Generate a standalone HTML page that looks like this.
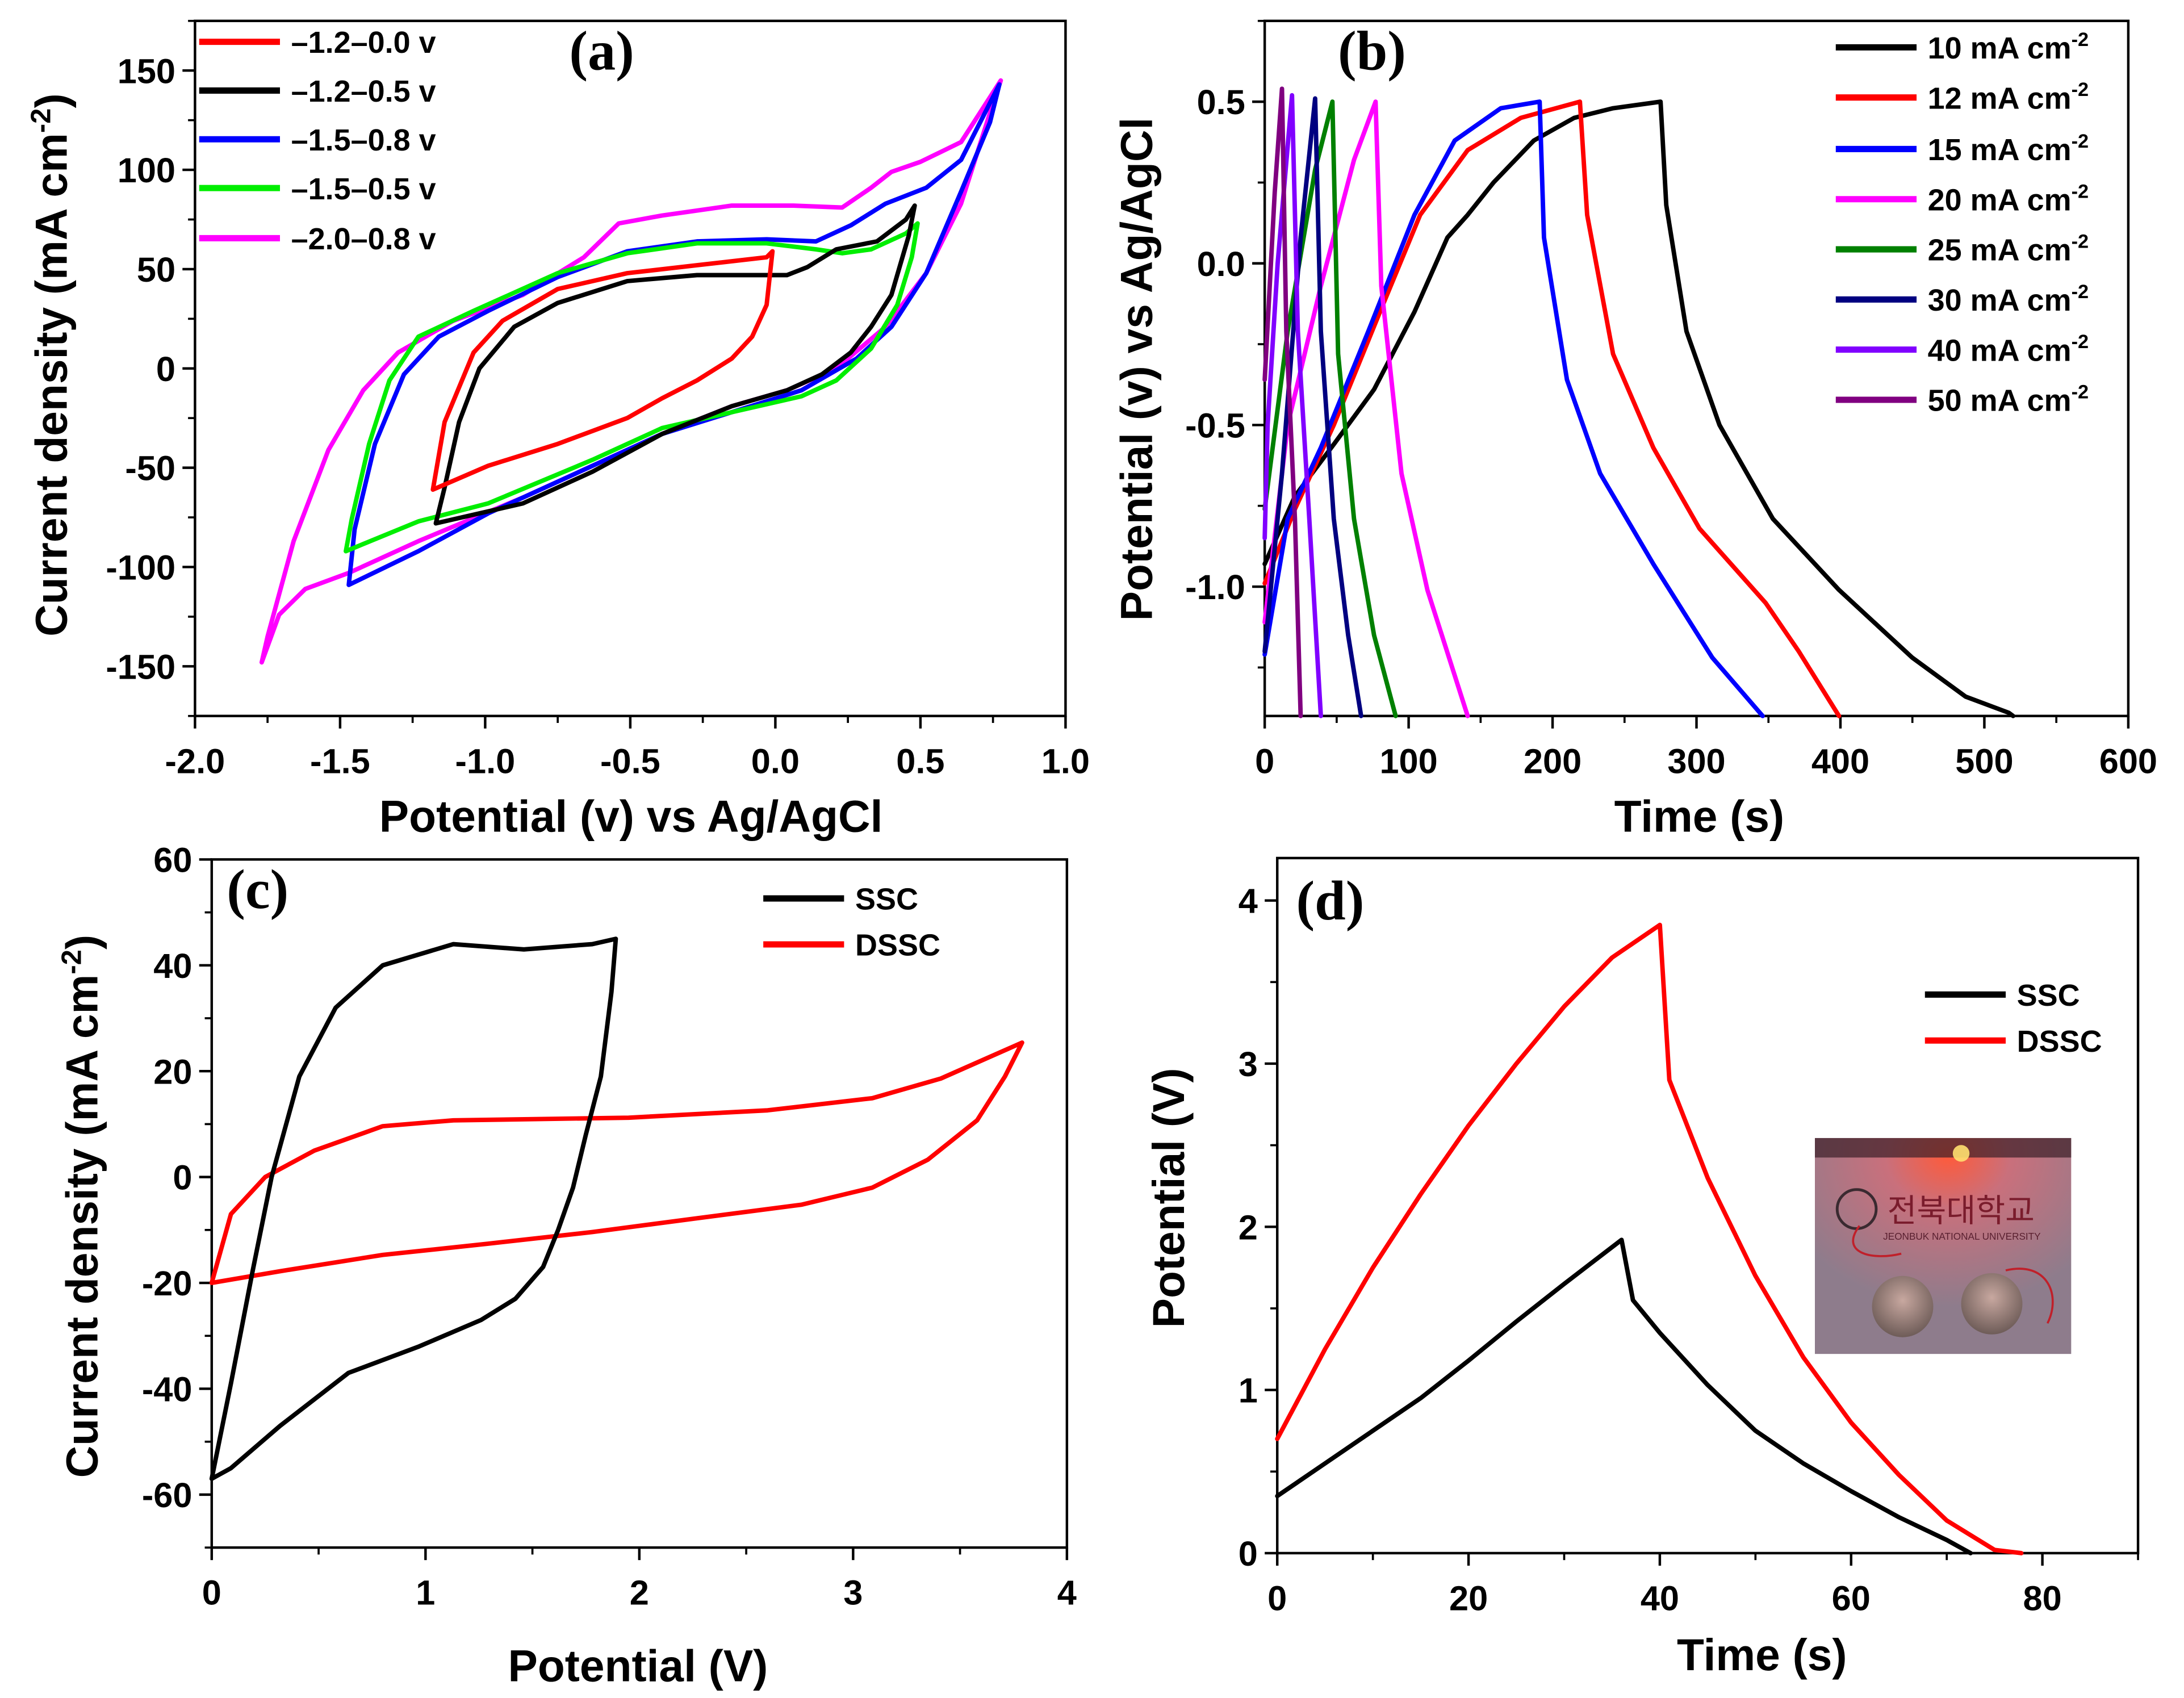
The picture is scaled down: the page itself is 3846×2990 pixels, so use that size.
<!DOCTYPE html>
<html><head><meta charset="utf-8"><style>
html,body{margin:0;padding:0;background:#fff;}
svg{display:block;}
text{font-family:"Liberation Sans",Arial,sans-serif;font-weight:bold;fill:#000;}
.pl{font-family:"Liberation Serif","Times New Roman",serif;font-weight:bold;}
</style></head><body>
<svg id="fig" xmlns="http://www.w3.org/2000/svg" width="3846" height="2990" viewBox="0 0 1568 1219" preserveAspectRatio="none"></svg>
<script>
// ---- Panel (a) CV data: [potential, current] ----
const cvA_12_00 = [[-1.18,-61],[-1.14,-27],[-1.04,8],[-0.94,24],[-0.75,40],[-0.51,48],[-0.27,52],[-0.03,56],[-0.01,59],[-0.03,32],[-0.08,16],[-0.15,5],[-0.27,-6],[-0.39,-15],[-0.51,-25],[-0.75,-38],[-0.99,-49],[-1.18,-61]];
const cvA_12_05 = [[-1.17,-78],[-1.14,-60],[-1.09,-27],[-1.02,0],[-0.9,21],[-0.75,33],[-0.51,44],[-0.27,47],[0.04,47],[0.11,51],[0.21,60],[0.35,64],[0.45,75],[0.48,82],[0.46,67],[0.4,37],[0.33,21],[0.26,8],[0.16,-3],[0.04,-11],[-0.15,-19],[-0.39,-33],[-0.63,-52],[-0.87,-68],[-1.17,-78]];
const cvA_15_08 = [[-1.47,-109],[-1.45,-81],[-1.38,-38],[-1.28,-3],[-1.16,16],[-0.99,29],[-0.75,46],[-0.51,59],[-0.27,64],[-0.03,65],[0.14,64],[0.26,72],[0.38,83],[0.52,91],[0.64,105],[0.772,143],[0.74,124],[0.64,89],[0.52,48],[0.4,21],[0.28,5],[0.09,-11],[-0.15,-22],[-0.39,-33],[-0.63,-49],[-0.99,-73],[-1.23,-92],[-1.47,-109]];
const cvA_15_05 = [[-1.48,-92],[-1.46,-76],[-1.4,-38],[-1.33,-6],[-1.23,16],[-1.04,29],[-0.75,48],[-0.51,58],[-0.27,63],[-0.03,63],[0.14,60],[0.23,58],[0.33,60],[0.45,68],[0.49,73],[0.47,56],[0.42,32],[0.33,10],[0.21,-6],[0.09,-14],[-0.15,-22],[-0.39,-30],[-0.63,-46],[-0.99,-68],[-1.23,-77],[-1.48,-92]];
const cvA_20_08 = [[-1.77,-148],[-1.75,-135],[-1.66,-87],[-1.54,-41],[-1.42,-11],[-1.3,8],[-1.11,24],[-0.87,37],[-0.66,56],[-0.54,73],[-0.39,77],[-0.15,82],[0.06,82],[0.23,81],[0.33,91],[0.4,99],[0.5,104],[0.64,114],[0.777,145],[0.736,127],[0.64,83],[0.52,48],[0.38,21],[0.21,0],[0.04,-11],[-0.15,-19],[-0.39,-33],[-0.63,-49],[-0.87,-65],[-1.23,-87],[-1.47,-103],[-1.62,-111],[-1.71,-124],[-1.77,-148]];
const legendA = ["–1.2–0.0 v","–1.2–0.5 v","–1.5–0.8 v","–1.5–0.5 v","–2.0–0.8 v"];
const xTicksA = [-2.0,-1.5,-1.0,-0.5,0.0,0.5,1.0];
const yTicksA = [-150,-100,-50,0,50,100,150];
// ---- Panel (b) GCD data: [time s, potential] ----
const gcd10 = [[0,-0.93],[21,-0.72],[48,-0.56],[76,-0.39],[104,-0.15],[127,0.08],[141,0.15],[159,0.25],[187,0.38],[215,0.45],[242,0.48],[275,0.5],[279,0.18],[293,-0.21],[316,-0.5],[353,-0.79],[399,-1.01],[450,-1.22],[487,-1.34],[517,-1.39],[520,-1.4]];
const gcd12 = [[0,-0.99],[21,-0.76],[48,-0.5],[81,-0.14],[108,0.15],[141,0.35],[178,0.45],[219,0.5],[224,0.15],[242,-0.28],[270,-0.57],[302,-0.82],[348,-1.05],[371,-1.2],[399,-1.4]];
const gcd15 = [[0,-1.21],[16,-0.79],[39,-0.57],[72,-0.21],[104,0.15],[132,0.38],[164,0.48],[191,0.5],[194,0.08],[210,-0.36],[233,-0.65],[270,-0.93],[311,-1.22],[346,-1.4]];
const gcd20 = [[0,-1.11],[16,-0.5],[39,-0.07],[62,0.32],[77,0.5],[81,-0.07],[95,-0.65],[113,-1.01],[141,-1.4]];
const gcd25 = [[0,-0.76],[16,-0.21],[35,0.29],[47,0.5],[51,-0.28],[62,-0.79],[76,-1.15],[91,-1.4]];
const gcd30 = [[0,-1.2],[12,-0.65],[25,0.08],[35,0.51],[39,-0.21],[48,-0.79],[58,-1.15],[67,-1.4]];
const gcd40 = [[0,-0.85],[2,-0.5],[9,0.0],[19,0.52],[23,-0.21],[31,-0.79],[39,-1.4]];
const gcd50 = [[0,-0.36],[7,0.22],[12,0.54],[15,-0.21],[21,-0.79],[25,-1.4]];
const legendB = ["10","12","15","20","25","30","40","50"];
const xTicksB = [0,100,200,300,400,500,600];
const yTicksB = [-1.0,-0.5,0.0,0.5];
// ---- Panel (c) CV of devices ----
const cvSSC = [[0,-57],[0.09,-39],[0.19,-18],[0.28,0],[0.41,19],[0.58,32],[0.8,40],[1.13,44],[1.46,43],[1.78,44],[1.89,45],[1.87,35],[1.82,19],[1.75,8],[1.69,-2],[1.62,-10],[1.55,-17],[1.42,-23],[1.26,-27],[0.97,-32],[0.64,-37],[0.32,-47],[0.09,-55],[0,-57]];
const cvDSSC = [[0,-20],[0.09,-7],[0.25,0],[0.48,5],[0.8,9.6],[1.13,10.7],[1.95,11.2],[2.6,12.6],[3.09,14.9],[3.41,18.6],[3.79,25.4],[3.71,19],[3.58,10.7],[3.35,3.3],[3.09,-2],[2.76,-5.2],[2.27,-7.8],[1.78,-10.4],[1.29,-12.6],[0.8,-14.7],[0.32,-17.8],[0,-20]];
const xTicksC = [0,1,2,3,4];
const yTicksC = [-60,-40,-20,0,20,40,60];
// ---- Panel (d) GCD of devices ----
const gcdSSC = [[0,0.35],[5,0.55],[10,0.75],[15,0.95],[20,1.18],[25,1.42],[30,1.65],[34,1.83],[36,1.92],[37.2,1.55],[40,1.35],[45,1.03],[50,0.75],[55,0.55],[60,0.38],[65,0.22],[70,0.08],[72.5,0]];
const gcdDSSC = [[0,0.7],[5,1.25],[10,1.75],[15,2.2],[20,2.62],[25,3.0],[30,3.35],[35,3.65],[40,3.85],[41,2.9],[45,2.3],[50,1.7],[55,1.2],[60,0.8],[65,0.48],[70,0.2],[75,0.02],[77.8,0]];
const xTicksD = [0,20,40,60,80];
const yTicksD = [0,1,2,3,4];

const NS="http://www.w3.org/2000/svg";
const svg=document.getElementById('fig');
function mk(tag,attrs,parent){const e=document.createElementNS(NS,tag);for(const k in attrs)e.setAttribute(k,attrs[k]);(parent||svg).appendChild(e);return e;}
function txt(s,x,y,size,anchor,parent,cls){const t=mk('text',{x:x,y:y,'font-size':size,'text-anchor':anchor||'middle'},parent);if(cls)t.setAttribute('class',cls);t.textContent=s;return t;}

function panel(name,box,xr,yr,xt,yt,xMinor,yMinor,fmtX,fmtY){
  const g=mk('g',{});
  
  
  const sx=v=>box.l+(v-xr[0])/(xr[1]-xr[0])*(box.r-box.l);
  const sy=v=>box.b-(v-yr[0])/(yr[1]-yr[0])*(box.b-box.t);
  const fr=mk('rect',{x:box.l,y:box.t,width:box.r-box.l,height:box.b-box.t,fill:'none',stroke:'#000','stroke-width':1.8},g);
  
  
  const ax=mk('g',{},g);
  
  
  for(let v=xr[0];v<=xr[1]+1e-9;v+=xMinor){mk('line',{x1:sx(v),x2:sx(v),y1:box.b,y2:box.b+5,stroke:'#000','stroke-width':1.5},ax);}
  xt.forEach(v=>{mk('line',{x1:sx(v),x2:sx(v),y1:box.b,y2:box.b+9,stroke:'#000','stroke-width':1.8},ax);const t=txt(fmtX(v),sx(v),box.b+41,25,'middle',ax);
    
    });
  const ay=mk('g',{},g);
  
  
  for(let v=Math.ceil(yr[0]/yMinor)*yMinor;v<=yr[1]+1e-9;v+=yMinor){mk('line',{x1:box.l-5,x2:box.l,y1:sy(v),y2:sy(v),stroke:'#000','stroke-width':1.5},ay);}
  yt.forEach(v=>{mk('line',{x1:box.l-9,x2:box.l,y1:sy(v),y2:sy(v),stroke:'#000','stroke-width':1.8},ay);const t=txt(fmtY(v),box.l-14,sy(v)+9,25,'end',ay);
    
    });
  return {g,sx,sy};
}
function series(p,data,color,name){
  const pts=data.map(d=>p.sx(d[0]).toFixed(1)+','+p.sy(d[1]).toFixed(1)).join(' ');
  const e=mk('polyline',{points:pts,fill:'none',stroke:color,'stroke-width':3.2,'stroke-linejoin':'round','stroke-linecap':'round'},p.g);
  
  
}
function legend(p,x,y,color,label,name,sup){
  const g=mk('g',{},p.g);
  
  
  mk('line',{x1:x,x2:x+58,y1:y,y2:y,stroke:color,'stroke-width':4.5},g);
  const t=txt(label,x+66,y+8,22,'start',g);
  if(sup){const ts=document.createElementNS(NS,'tspan');ts.setAttribute('dy','-9');ts.setAttribute('font-size','14');ts.textContent=sup;t.appendChild(ts);}
}
const f1=v=>v.toFixed(1), f0=v=>String(v);

// Panel a
const pa=panel('panel-a',{l:140,r:765,t:15,b:514},[-2,1],[-175,175],xTicksA,yTicksA,0.25,25,f1,f0);
const colA=['#ff0000','#000000','#0000ff','#00ee00','#ff00ff'];
series(pa,cvA_20_08,colA[4],'cv-2.0-0.8');
series(pa,cvA_15_08,colA[2],'cv-1.5-0.8');
series(pa,cvA_15_05,colA[3],'cv-1.5-0.5');
series(pa,cvA_12_05,colA[1],'cv-1.2-0.5');
series(pa,cvA_12_00,colA[0],'cv-1.2-0.0');
[30,65,100,135,171].forEach((y,i)=>legend(pa,143,y,colA[i],legendA[i],'legend-entry-a'));
txt('(a)',432,50,40,'middle',pa.g,'pl');
let t=txt('Potential (v) vs Ag/AgCl',453,597,32,'middle',pa.g);

t=mk('text',{x:0,y:0,'font-size':32,'text-anchor':'middle',transform:'translate(48,262) rotate(-90)'},pa.g);
t.innerHTML='Current density (mA cm<tspan dy="-12" font-size="20">-2</tspan><tspan dy="12">)</tspan>';


// Panel b
const pb=panel('panel-b',{l:908,r:1528,t:15,b:514},[0,600],[-1.4,0.75],xTicksB,yTicksB,50,0.25,f0,f1);
const colB=['#000000','#ff0000','#0000ff','#ff00ff','#008000','#000080','#8000ff','#800080'];
const gcdB=[gcd10,gcd12,gcd15,gcd20,gcd25,gcd30,gcd40,gcd50];
gcdB.forEach((d,i)=>series(pb,d,colB[i],'gcd-'+legendB[i]+'ma'));
[34,70,107,143,179,215,251,287].forEach((y,i)=>legend(pb,1318,y,colB[i],legendB[i]+' mA cm','legend-entry-b','-2'));
txt('(b)',985,50,40,'middle',pb.g,'pl');
t=txt('Time (s)',1220,597,32,'middle',pb.g);

t=txt('Potential (v) vs Ag/AgCl',0,0,32,'middle',pb.g);
t.setAttribute('transform','translate(827,265) rotate(-90)');


// Panel c
const pc=panel('panel-c',{l:152,r:766,t:617,b:1111},[0,4],[-70,60],xTicksC,yTicksC,0.5,10,f0,f0);
series(pc,cvDSSC,'#ff0000','cv-dssc');
series(pc,cvSSC,'#000000','cv-ssc');
legend(pc,548,645,'#000','SSC','legend-entry-c');
legend(pc,548,678,'#ff0000','DSSC','legend-entry-c');
txt('(c)',185,652,40,'middle',pc.g,'pl');
t=txt('Potential (V)',458,1207,32,'middle',pc.g);

t=mk('text',{x:0,y:0,'font-size':32,'text-anchor':'middle',transform:'translate(70,866) rotate(-90)'},pc.g);
t.innerHTML='Current density (mA cm<tspan dy="-12" font-size="20">-2</tspan><tspan dy="12">)</tspan>';


// Panel d
const pd=panel('panel-d',{l:917,r:1535,t:616,b:1115},[0,90],[0,4.26],xTicksD,yTicksD,10,0.5,f0,f0);
series(pd,gcdDSSC,'#ff0000','gcd-dssc');
series(pd,gcdSSC,'#000000','gcd-ssc');
legend(pd,1382,714,'#000','SSC','legend-entry-d');
legend(pd,1382,747,'#ff0000','DSSC','legend-entry-d');
txt('(d)',955,660,40,'middle',pd.g,'pl');
t=txt('Time (s)',1265,1199,32,'middle',pd.g);

t=txt('Potential (V)',0,0,32,'middle',pd.g);
t.setAttribute('transform','translate(850,860) rotate(-90)');

</script>
<svg style="position:absolute;left:0;top:0" width="3846" height="2990" viewBox="0 0 1568 1219" preserveAspectRatio="none">
<defs>
<radialGradient id="glow" cx="0.52" cy="0.08" r="0.7"><stop offset="0" stop-color="#ff5a3a"/><stop offset="0.35" stop-color="#c9707c"/><stop offset="1" stop-color="#8e7c8c"/></radialGradient>
<radialGradient id="disc" cx="0.5" cy="0.4" r="0.6"><stop offset="0" stop-color="#c8a8a0"/><stop offset="1" stop-color="#6e5c58"/></radialGradient>
</defs>
<rect x="1303" y="817" width="184" height="155" fill="url(#glow)"/>
<rect x="1303" y="817" width="184" height="14" fill="#3a2028" opacity="0.7"/>
<circle cx="1408" cy="828" r="6" fill="#ffe070" opacity="0.9"/>
<circle cx="1333" cy="868" r="14" fill="none" stroke="#3a2a30" stroke-width="2"/>
<text x="1355" y="877" font-size="23" style="fill:#7a1c2c;font-family:'Liberation Sans','Noto Sans CJK KR',sans-serif;font-weight:normal">전북대학교</text>
<text x="1352" y="890" font-size="7" style="fill:#5a2030;font-weight:normal">JEONBUK NATIONAL UNIVERSITY</text>
<circle cx="1366" cy="938" r="22" fill="url(#disc)"/>
<circle cx="1430" cy="936" r="22" fill="url(#disc)"/>
<path d="M1335 880 C1320 900,1345 905,1365 900 M1440 912 C1470 905,1480 930,1470 950" fill="none" stroke="#c0202a" stroke-width="1.5"/>
</svg>
</body></html>
